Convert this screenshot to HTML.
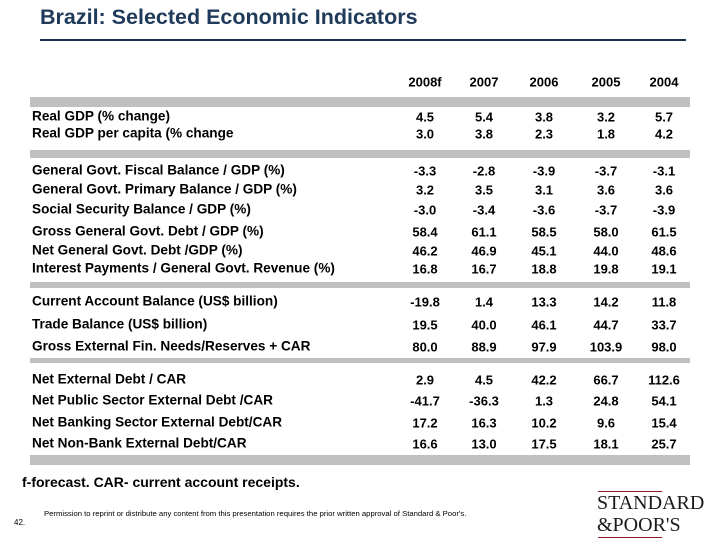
<!DOCTYPE html>
<html><head><meta charset="utf-8"><style>
body{margin:0;width:720px;height:540px;background:#fff;position:relative;overflow:hidden;font-family:"Liberation Sans",Arial,sans-serif;color:#000}
.a{position:absolute;white-space:nowrap}
.band{position:absolute;left:30px;width:660px;background:#c0c0c0}
.lbl{position:absolute;left:32px;font-size:13.6px;font-weight:bold;transform:translateY(-50%)}
.num{position:absolute;font-size:13px;font-weight:bold;transform:translate(-50%,-50%)}
</style></head><body>
<div class="a" style="left:40px;top:5px;font-size:21.5px;font-weight:bold;color:#1f3a5a">Brazil: Selected Economic Indicators</div>
<div class="a" style="left:40px;top:39px;width:646px;height:2px;background:#1a3050"></div>
<div class="band" style="top:97px;height:10px"></div>
<div class="band" style="top:150px;height:8px"></div>
<div class="band" style="top:282px;height:6px"></div>
<div class="band" style="top:358px;height:5px"></div>
<div class="band" style="top:455px;height:10px"></div>
<div id="tbl"></div>
<div class="a" style="left:22px;top:474px;font-size:14px;font-weight:bold">f-forecast. CAR- current account receipts.</div>
<div class="a" style="left:44px;top:509px;font-size:7.7px">Permission to reprint or distribute any content from this presentation requires the prior written approval of Standard &amp; Poor's.</div>
<div class="a" style="left:14px;top:518px;font-size:8px">42.</div>
<div>
<div class="a" style="left:598px;top:491px;width:64px;height:1px;background:#8b1a1a"></div>
<div class="a" style="left:597px;top:492px;font-family:'Liberation Serif',serif;font-size:20px;line-height:22px;color:#1a1a1a">STANDARD</div>
<div class="a" style="left:597px;top:514px;font-family:'Liberation Serif',serif;font-size:20px;line-height:22px;color:#1a1a1a">&amp;POOR'S</div>
<div class="a" style="left:598px;top:537px;width:64px;height:1px;background:#8b1a1a"></div>
</div>
<script>
const years=["2008f","2007","2006","2005","2004"];
const labels=["Real GDP (% change)","Real GDP per capita (% change","General Govt. Fiscal Balance / GDP (%)","General Govt. Primary Balance / GDP (%)","Social Security Balance / GDP (%)","Gross General Govt. Debt / GDP (%)","Net General Govt. Debt /GDP  (%)","Interest Payments / General Govt. Revenue (%)","Current Account Balance (US$ billion)","Trade Balance (US$ billion)","Gross External Fin. Needs/Reserves + CAR","Net External Debt / CAR","Net Public Sector External Debt /CAR","Net Banking Sector External Debt/CAR","Net Non-Bank External Debt/CAR"];
const values=[["4.5","5.4","3.8","3.2","5.7"],["3.0","3.8","2.3","1.8","4.2"],["-3.3","-2.8","-3.9","-3.7","-3.1"],["3.2","3.5","3.1","3.6","3.6"],["-3.0","-3.4","-3.6","-3.7","-3.9"],["58.4","61.1","58.5","58.0","61.5"],["46.2","46.9","45.1","44.0","48.6"],["16.8","16.7","18.8","19.8","19.1"],["-19.8","1.4","13.3","14.2","11.8"],["19.5","40.0","46.1","44.7","33.7"],["80.0","88.9","97.9","103.9","98.0"],["2.9","4.5","42.2","66.7","112.6"],["-41.7","-36.3","1.3","24.8","54.1"],["17.2","16.3","10.2","9.6","15.4"],["16.6","13.0","17.5","18.1","25.7"]];
const colX=[425,484,544,606,664];
const rowY=[116,133,170,189,209,231,250,268,301,324,346,379,400,422,443];
const t=document.getElementById('tbl');
years.forEach((y,i)=>{const d=document.createElement('div');d.className='num';d.style.left=colX[i]+'px';d.style.top='82px';d.textContent=y;


t.appendChild(d);});
labels.forEach((l,r)=>{const d=document.createElement('div');d.className='lbl';d.style.top=rowY[r]+'px';d.textContent=l;


t.appendChild(d);
values[r].forEach((v,i)=>{const c=document.createElement('div');c.className='num';c.style.left=colX[i]+'px';c.style.top=(rowY[r]+1)+'px';c.textContent=v;


t.appendChild(c);});});
</script>
</body></html>
